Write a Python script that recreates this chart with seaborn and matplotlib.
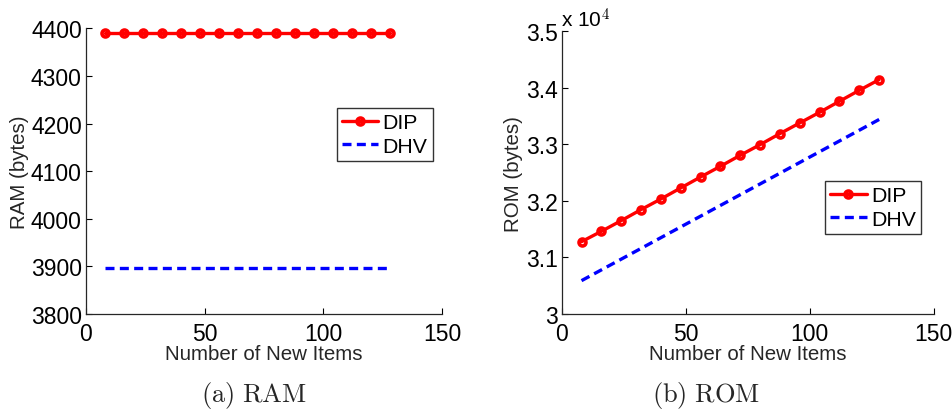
import matplotlib
matplotlib.use("Agg")
import matplotlib.pyplot as plt
import seaborn as sns
import pandas as pd
from matplotlib.ticker import FuncFormatter

# ---- data ----
items = [8, 16, 24, 32, 40, 48, 56, 64, 72, 80, 88, 96, 104, 112, 120, 128]
ram_dip = [4391] * 16
ram_dhv = [3897] * 16
rom_dip = [31279, 31462, 31651, 31846, 32034, 32229, 32423, 32612,
           32807, 32995, 33190, 33379, 33567, 33762, 33956, 34145]
rom_dhv = [30590, 30780, 30970, 31160, 31350, 31540, 31730, 31920,
           32110, 32300, 32490, 32680, 32870, 33060, 33250, 33440]
series_names = ["DIP", "DHV"]
x_ticks = [0, 50, 100, 150]
ram_ticks = [3800, 3900, 4000, 4100, 4200, 4300, 4400]
rom_ticks = [30000, 31000, 32000, 33000, 34000, 35000]
captions = [r"$\mathrm{(a)\ RAM}$", r"$\mathrm{(b)\ ROM}$"]

sns.set_theme(style="white")
plt.rcParams["font.family"] = ["Liberation Sans", "DejaVu Sans"]
plt.rcParams["mathtext.fontset"] = "cm"

fig = plt.figure(figsize=(9.52, 4.14), dpi=100)
ax1 = fig.add_axes([0.0903, 0.2391, 0.374, 0.690])
ax2 = fig.add_axes([0.590, 0.2391, 0.3908, 0.683])

def draw(ax, dip, dhv, yticks, ylabel, legend_anchor, ylabelpad):
    df_dip = pd.DataFrame({"x": items, "y": dip})
    df_dhv = pd.DataFrame({"x": items, "y": dhv})
    sns.lineplot(data=df_dip, x="x", y="y", ax=ax, color="#ff0000", lw=2.4,
                 marker="o", markersize=5.0, markerfacecolor="none",
                 markeredgecolor="#ff0000", markeredgewidth=2.6,
                 label=series_names[0])
    sns.lineplot(data=df_dhv, x="x", y="y", ax=ax, color="#0000ff", lw=2.4,
                 label=series_names[1])
    ax.lines[-1].set_dashes([2.7, 1.6])
    ax.set_xlim(0, 150)
    ax.set_ylim(yticks[0], yticks[-1])
    ax.set_xticks(x_ticks)
    ax.set_yticks(yticks)
    ax.set_xlabel("Number of New Items", fontsize=14.8, labelpad=-1)
    ax.set_ylabel(ylabel, fontsize=14.8, labelpad=ylabelpad)
    ax.tick_params(direction="in", length=4, width=0.8, labelsize=16.5,
                   colors="#000000", pad=3, bottom=True, left=True)
    ax.tick_params(axis="x", pad=6)
    for s in ["top", "right"]:
        ax.spines[s].set_visible(False)
    for s in ["left", "bottom"]:
        ax.spines[s].set_color("#262626")
        ax.spines[s].set_linewidth(0.9)
    leg = ax.legend(loc="upper left", bbox_to_anchor=legend_anchor,
                    fontsize=15.3, frameon=True, fancybox=False,
                    handlelength=1.7, handletextpad=0.2, borderpad=0.25,
                    labelspacing=0.2, borderaxespad=0)
    leg.get_frame().set_edgecolor("black")
    leg.get_frame().set_linewidth(1.0)
    for t in leg.get_texts():
        t.set_color("black")

draw(ax1, ram_dip, ram_dhv, ram_ticks, "RAM (bytes)", (0.705, 0.721), 1)
draw(ax2, rom_dip, rom_dhv, rom_ticks, "ROM (bytes)", (0.708, 0.4705), 2)
ax2.yaxis.set_major_formatter(FuncFormatter(lambda v, p: f"{v/1e4:g}"))
ax2.text(-0.002, 1.0, r"x 10$^{4}$", transform=ax2.transAxes, fontsize=15,
         ha="left", va="bottom", color="black")

fig.text(0.2665, 0.045, captions[0], fontsize=19, ha="center", va="center")
fig.text(0.7415, 0.045, captions[1], fontsize=19, ha="center", va="center")

fig.savefig("out.png", dpi=100)
